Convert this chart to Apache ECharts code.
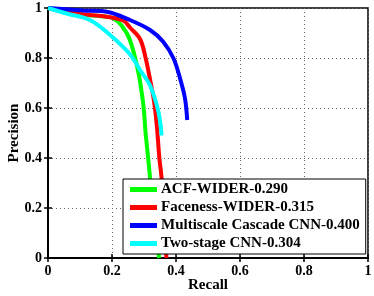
<!DOCTYPE html>
<html><head><meta charset="utf-8">
<script src="https://cdn.jsdelivr.net/npm/echarts@6/dist/echarts.min.js"></script>
<style>html,body{margin:0;padding:0;background:#fff}#c{width:374px;height:296px}</style>
</head><body><div id="c"></div>
<script>
var seriesNames = ['ACF-WIDER-0.290', 'Faceness-WIDER-0.315', 'Multiscale Cascade CNN-0.400', 'Two-stage CNN-0.304'];
var tickValues = [0, 0.2, 0.4, 0.6, 0.8, 1];

var acfRecall    = [0, 0.08, 0.183, 0.204, 0.23, 0.256, 0.282, 0.298, 0.305, 0.313, 0.319, 0.33, 0.34, 0.347];
var acfPrecision = [1, 0.978, 0.965, 0.959, 0.93, 0.872, 0.745, 0.612, 0.5, 0.4, 0.32, 0.18, 0.08, 0];

var facRecall    = [0, 0.079, 0.131, 0.183, 0.235, 0.256, 0.288, 0.305, 0.318, 0.331, 0.34, 0.348, 0.355, 0.362, 0.37];
var facPrecision = [1, 0.979, 0.972, 0.965, 0.95, 0.922, 0.875, 0.8, 0.72, 0.63, 0.53, 0.4, 0.32, 0.18, 0];

var mscRecall    = [0, 0.11, 0.183, 0.256, 0.319, 0.36, 0.392, 0.4125, 0.428, 0.435];
var mscPrecision = [1, 0.99, 0.985, 0.952, 0.912, 0.865, 0.799, 0.719, 0.639, 0.552];

var tsRecall     = [0, 0.058, 0.131, 0.194, 0.256, 0.2875, 0.319, 0.345, 0.355];
var tsPrecision  = [1, 0.978, 0.952, 0.892, 0.815, 0.752, 0.69, 0.585, 0.49];

var colors = ['#00ff00', '#ff0000', '#0000ff', '#00ffff'];

function pairs(xs, ys) { return xs.map(function (x, i) { return [x, ys[i]]; }); }
var dataSets = [pairs(acfRecall, acfPrecision), pairs(facRecall, facPrecision), pairs(mscRecall, mscPrecision), pairs(tsRecall, tsPrecision)];

var font = 'Liberation Serif';
var labelStyle = { fontFamily: font, fontWeight: 'bold', fontSize: 14, color: '#000' };
var nameStyle = { fontFamily: font, fontWeight: 'bold', fontSize: 15, color: '#000' };
var split = { show: true, lineStyle: { color: '#666', type: [1, 3], width: 1 } };
function fmt(v) { return String(Math.round(v * 10) / 10); }

function axis(extra) {
  return Object.assign({
    type: 'value', min: tickValues[0], max: tickValues[tickValues.length - 1], interval: 0.2,
    axisLine: { show: true, lineStyle: { color: '#000', width: 2 } },
    axisTick: { show: true, inside: true, length: 4, lineStyle: { color: '#000', width: 1.5 } },
    axisLabel: Object.assign({ margin: 6, formatter: fmt }, labelStyle),
    splitLine: split
  }, extra);
}

var chart = echarts.init(document.getElementById('c'), null, { renderer: 'canvas' });
chart.setOption({
  animation: false,
  backgroundColor: '#fff',
  grid: { left: 48, top: 8, width: 320, height: 250, containLabel: false, outerBoundsMode: 'none', show: true, borderColor: '#000', borderWidth: 1.5, backgroundColor: 'transparent' },
  xAxis: [
    axis({ name: 'Recall', nameLocation: 'middle', nameGap: 20, nameMoveOverlap: false, nameTextStyle: nameStyle }),
    axis({ position: 'top', axisLabel: { show: false }, splitLine: { show: false }, axisLine: { show: true, lineStyle: { color: '#000', width: 1.5 } } })
  ],
  yAxis: [
    axis({ name: 'Precision', nameLocation: 'middle', nameGap: 26, nameMoveOverlap: false, nameRotate: 90, nameTextStyle: nameStyle }),
    axis({ position: 'right', axisLabel: { show: false }, splitLine: { show: false }, axisLine: { show: true, lineStyle: { color: '#000', width: 1.5 } } })
  ],
  legend: {
    orient: 'vertical', left: 123, top: 179,
    backgroundColor: '#fff', borderColor: '#000', borderWidth: 1,
    padding: [3, 6, 3, 7], itemGap: 3, itemWidth: 27, itemHeight: 5, icon: 'rect',
    textStyle: { fontFamily: font, fontWeight: 'bold', fontSize: 15, color: '#000', padding: [0, 0, 0, -1] },
    data: seriesNames
  },
  series: seriesNames.map(function (n, i) {
    return {
      name: n, type: 'line', xAxisIndex: 0, yAxisIndex: 0,
      data: dataSets[i], showSymbol: false, smooth: 0.35,
      lineStyle: { color: colors[i], width: 4 }, itemStyle: { color: colors[i] }
    };
  })
});
</script>
</body></html>
